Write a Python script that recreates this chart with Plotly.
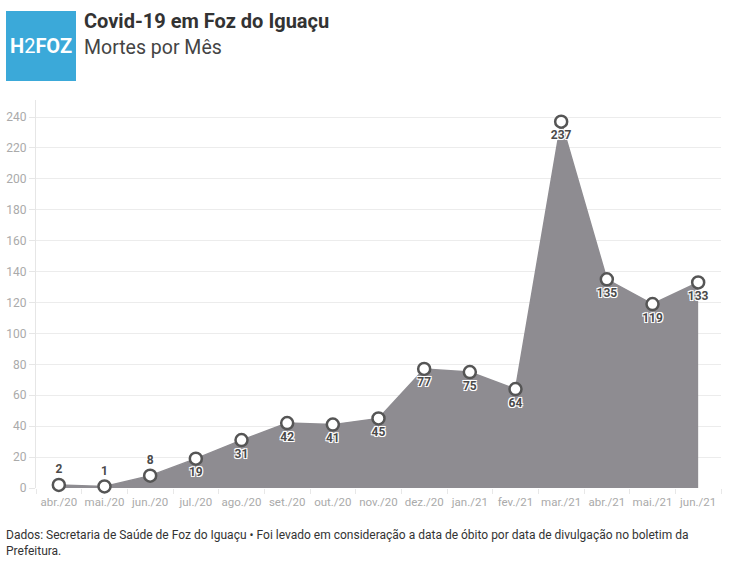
import plotly.graph_objects as go

months = ["abr./20", "mai./20", "jun./20", "jul./20", "ago./20", "set./20", "out./20",
          "nov./20", "dez./20", "jan./21", "fev./21", "mar./21", "abr./21", "mai./21", "jun./21"]
deaths = [2, 1, 8, 19, 31, 42, 41, 45, 77, 75, 64, 237, 135, 119, 133]
label_pos = ["top center"] * 3 + ["bottom center"] * 12

title = "Covid-19 em Foz do Iguaçu"
subtitle = "Mortes por Mês"
footer = ("Dados: Secretaria de Saúde de Foz do Iguaçu • Foi levado em consideração a data de óbito "
          "por data de divulgação no boletim da<br>Prefeitura.")

W, H = 741, 569
ML, MR, MT, MB = 36, 20, 100, 81
PW, PH = W - ML - MR, H - MT - MB


def px(x):
    return (x - ML) / PW


def py(y):
    return 1 - (y - MT) / PH


fig = go.Figure()
fig.add_trace(go.Scatter(
    x=months, y=deaths,
    mode="lines",
    fill="tozeroy",
    fillcolor="#8e8c91",
    line=dict(color="#8e8c91", width=1.5, shape="linear"),
    hoverinfo="skip",
    showlegend=False,
))
fig.add_trace(go.Scatter(
    x=months, y=deaths,
    mode="markers+text",
    marker=dict(size=12, color="white", line=dict(color="#555555", width=2.5)),
    text=[str(v) for v in deaths],
    textposition=label_pos,
    textfont=dict(family="Roboto", size=12, color="#4a4a4a", weight="bold",
                  shadow="-1px -1px 0 #fff, 1px -1px 0 #fff, -1px 1px 0 #fff, 1px 1px 0 #fff, 0 0 2px #fff"),
    cliponaxis=False,
    hoverinfo="skip",
    showlegend=False,
))

fig.update_layout(
    width=W, height=H,
    margin=dict(l=ML, r=MR, t=MT, b=MB, autoexpand=False),
    paper_bgcolor="white", plot_bgcolor="white",
    font=dict(family="Roboto", color="#333"),
    xaxis=dict(
        type="category", range=[-0.5, 14.5], automargin=False,
        showgrid=False, zeroline=False, tickangle=0,
        tickson="boundaries", ticks="outside", ticklen=5, tickcolor="#e8e8e8",
        tickfont=dict(family="Roboto", size=11.5, color="#aaaaaa"),
        ticklabelstandoff=5,
        showline=False,
    ),
    yaxis=dict(
        range=[0, 251], dtick=20, tick0=0, automargin=False,
        showgrid=True, gridcolor="#ececec", gridwidth=1,
        zeroline=False,
        showline=True, linecolor="#e6e6e6", linewidth=1,
        ticks="outside", ticklen=6, tickcolor="#e6e6e6",
        tickfont=dict(family="Roboto", size=12, color="#aaaaaa"),
    ),
    shapes=[
        dict(type="rect", xref="paper", yref="paper",
             x0=px(6), x1=px(76), y0=py(81), y1=py(11),
             fillcolor="#3ba9d9", line=dict(width=0), layer="above"),
    ],
    annotations=[
        dict(text="<b>H</b>2<b>FOZ</b>", xref="paper", yref="paper",
             x=px(41), y=py(46),
             xanchor="center", yanchor="middle", showarrow=False,
             font=dict(family="Roboto", size=20, color="white")),
        dict(text="<b>" + title + "</b>", xref="paper", yref="paper",
             x=px(82), y=py(21),
             xanchor="left", yanchor="middle", showarrow=False,
             font=dict(family="Roboto", size=20, color="#333333")),
        dict(text=subtitle, xref="paper", yref="paper",
             x=px(82), y=py(47),
             xanchor="left", yanchor="middle", showarrow=False,
             font=dict(family="Roboto", size=19.5, color="#444444")),
        dict(text=footer, xref="paper", yref="paper",
             x=px(4), y=py(526),
             xanchor="left", yanchor="top", align="left", showarrow=False,
             font=dict(family="Roboto", size=12, color="#333333")),
    ],
)

fig.write_html("out.html", config={"displayModeBar": False},
               post_script="document.body.style.margin='0';")
